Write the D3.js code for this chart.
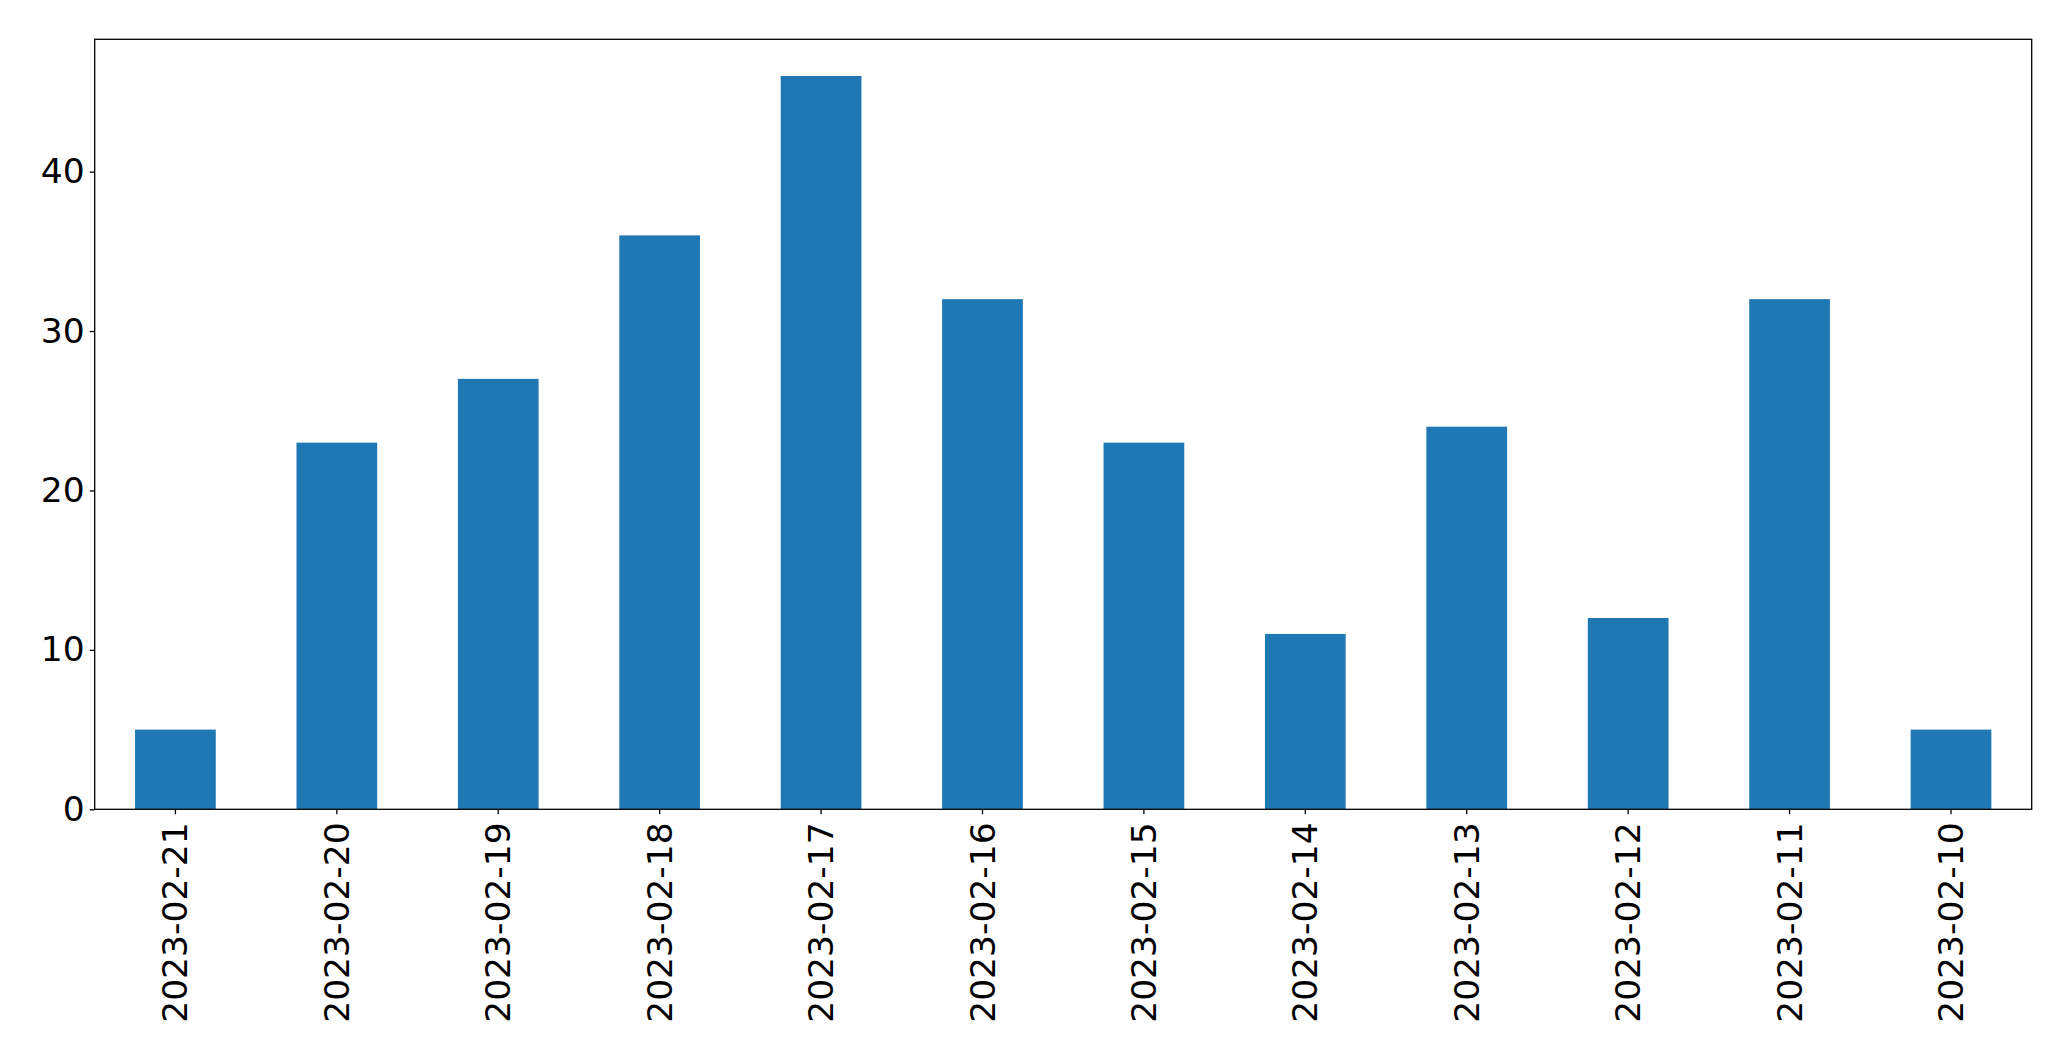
<!DOCTYPE html>
<html>
<head>
<meta charset="utf-8">
<script src="https://cdn.jsdelivr.net/npm/d3@7"></script>
<style>
html,body{margin:0;padding:0;background:#fff;}
svg{display:block;}
text{font-family:"DejaVu Sans",sans-serif;fill:#000;}
</style>
</head>
<body>
<svg id="chart" width="2071" height="1061"></svg>
<script>
const categories = ["2023-02-21","2023-02-20","2023-02-19","2023-02-18","2023-02-17","2023-02-16","2023-02-15","2023-02-14","2023-02-13","2023-02-12","2023-02-11","2023-02-10"];
const values = [5, 23, 27, 36, 46, 32, 23, 11, 24, 12, 32, 5];
const yTicks = [0, 10, 20, 30, 40];

const W = 2071, H = 1061;
const m = {left: 94.7, right: W - 2031.7, top: 39.3, bottom: H - 809.3};
const svg = d3.select("#chart");
const iw = W - m.left - m.right, ih = H - m.top - m.bottom;
const g = svg.append("g").attr("transform", `translate(${m.left},${m.top})`);

const x = d3.scaleBand().domain(categories).range([0, iw]).paddingInner(0.5).paddingOuter(0.25);
const y = d3.scaleLinear().domain([0, d3.max(values) * 1.05]).range([ih, 0]);

g.selectAll("rect.bar").data(values).enter().append("rect")
  .attr("class", "bar")
  .attr("x", (d, i) => x(categories[i]))
  .attr("width", x.bandwidth())
  .attr("y", d => y(d))
  .attr("height", d => ih - y(d))
  .attr("fill", "#1f77b4");

const fs = 34.5;
const yAxis = g.append("g").call(d3.axisLeft(y).tickValues(yTicks).tickSize(5).tickPadding(5).tickFormat(d3.format("d")));
yAxis.select(".domain").remove();
yAxis.selectAll("line").attr("stroke", "#000").attr("stroke-width", 1.3);
yAxis.selectAll("text").style("font-size", fs + "px").attr("font-family", null);

const xAxis = g.append("g").attr("transform", `translate(0,${ih})`)
  .call(d3.axisBottom(x).tickSize(5).tickPadding(6));
xAxis.select(".domain").remove();
xAxis.selectAll("line").attr("stroke", "#000").attr("stroke-width", 1.3);
xAxis.selectAll("text")
  .style("font-size", fs + "px").attr("font-family", null)
  .attr("transform", "rotate(-90)")
  .attr("text-anchor", "end")
  .attr("x", -13)
  .attr("y", 0)
  .attr("dy", "0.35em");

g.append("rect").attr("x", 0).attr("y", 0).attr("width", iw).attr("height", ih)
  .attr("fill", "none").attr("stroke", "#000").attr("stroke-width", 1.3);
</script>
</body>
</html>
